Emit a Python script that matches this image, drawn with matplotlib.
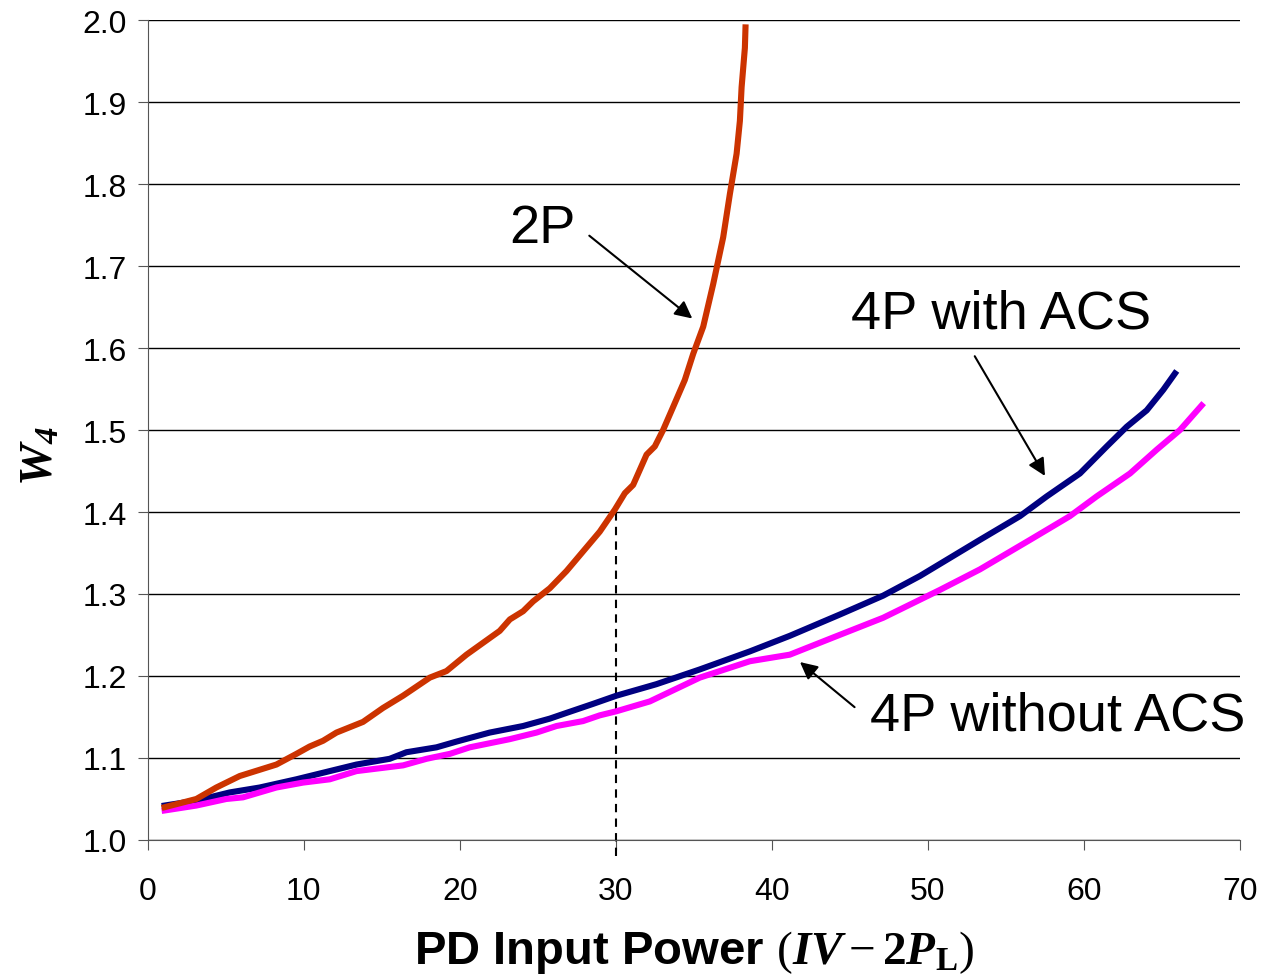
import matplotlib.pyplot as plt
import numpy as np

plt.rcParams['font.family'] = ['Liberation Sans', 'DejaVu Sans']
plt.rcParams['mathtext.fontset'] = 'custom'
plt.rcParams['mathtext.rm'] = 'Liberation Serif'
plt.rcParams['mathtext.it'] = 'Liberation Serif:italic'
plt.rcParams['mathtext.bf'] = 'Liberation Serif:bold'
plt.rcParams['mathtext.bfit'] = 'Liberation Serif:bold:italic'

# Datos
x_2p = [1.09, 3.12, 4.40, 5.90, 8.25, 9.53, 10.38, 11.24, 12.10, 13.80, 15.08, 16.37,
        18.08, 19.15, 20.43, 22.56, 23.21, 24.06, 24.70, 25.77, 26.84, 28.97, 29.94,
        30.58, 31.11, 31.97, 32.50, 33.03, 33.67, 34.42, 34.96, 35.60, 36.24, 36.88,
        37.31, 37.74, 37.95, 38.06, 38.27, 38.31]
y_2p = [1.040, 1.050, 1.064, 1.078, 1.092, 1.105, 1.114, 1.121, 1.131, 1.144, 1.161,
        1.176, 1.198, 1.206, 1.226, 1.255, 1.269, 1.279, 1.291, 1.307, 1.328, 1.376,
        1.403, 1.423, 1.433, 1.470, 1.480, 1.500, 1.528, 1.561, 1.593, 1.626, 1.678,
        1.735, 1.788, 1.837, 1.877, 1.918, 1.966, 1.991]

x_acs = [1.09, 3.12, 5.26, 7.18, 9.53, 11.24, 13.38, 15.51, 16.58, 18.51, 19.79,
         21.92, 24.06, 25.77, 26.84, 28.54, 30.04, 32.60, 35.38, 38.59, 41.15, 44.36,
         47.13, 49.49, 53.33, 55.90, 57.61, 59.74, 61.46, 62.74, 64.02, 65.08, 65.83]
y_acs = [1.042, 1.048, 1.058, 1.064, 1.074, 1.082, 1.092, 1.099, 1.107, 1.113, 1.120,
         1.131, 1.139, 1.148, 1.155, 1.166, 1.176, 1.190, 1.208, 1.230, 1.249, 1.275,
         1.298, 1.322, 1.366, 1.395, 1.419, 1.447, 1.480, 1.504, 1.524, 1.549, 1.569]

x_noacs = [1.09, 3.12, 5.04, 6.11, 8.25, 9.96, 11.67, 13.38, 16.37, 17.87, 19.36,
           20.64, 23.21, 24.92, 26.20, 27.90, 28.97, 30.04, 32.18, 35.38, 38.59, 41.15,
           43.93, 47.13, 50.77, 53.33, 56.54, 59.10, 60.81, 62.95, 64.66, 66.15, 67.54]
y_noacs = [1.036, 1.042, 1.050, 1.052, 1.064, 1.070, 1.074, 1.084, 1.091, 1.099, 1.105,
           1.113, 1.123, 1.131, 1.139, 1.145, 1.152, 1.157, 1.169, 1.198, 1.218, 1.226,
           1.247, 1.271, 1.305, 1.330, 1.366, 1.395, 1.419, 1.447, 1.476, 1.500, 1.530]

fig = plt.figure(figsize=(12.62, 9.78), dpi=100)
ax = fig.add_axes([0.117, 0.1401, 0.8656, 0.8384])

ax.plot(x_acs, y_acs, color="#000080", lw=4.4, zorder=3)
ax.plot(x_noacs, y_noacs, color="#FF00FF", lw=4.4, zorder=3)
ax.plot(x_2p, y_2p, color="#CC3300", lw=4.4, zorder=4)

# linea vertical en 30
ax.plot([30, 30], [0.98, 1.403], color="black", lw=1.5, ls=(0, (4, 3)),
        clip_on=False, zorder=2)

ax.set_xlim(0, 70)
ax.set_ylim(1.0, 2.0)
ax.set_xticks(np.arange(0, 71, 10))
ax.set_yticks(np.arange(1.0, 2.01, 0.1))
ax.set_yticklabels([f"{v:.1f}" for v in np.arange(1.0, 2.01, 0.1)])
ax.yaxis.grid(True, color="black", lw=1)
ax.set_axisbelow(True)
ax.spines["top"].set_visible(False)
ax.spines["right"].set_visible(False)
ax.spines["left"].set_color("#555555")
ax.spines["bottom"].set_color("#555555")
ax.tick_params(labelsize=23, direction="out", length=7, color="#555555")
ax.tick_params(axis="x", pad=19)
ax.tick_params(axis="y", pad=8)

ax.set_xlabel(r"PD Input Power $(\mathbfit{IV} - \mathbf{2}\mathbfit{P}_{\mathbf{L}})$",
              fontsize=34, fontweight="bold", labelpad=16)
ax.set_ylabel(r"$\mathbfit{W}_{\mathbfit{4}}$", fontsize=34)
ax.yaxis.set_label_coords(-0.078, 0.47)

arr = dict(arrowstyle="-|>", color="black", lw=1.5, mutation_scale=26,
           shrinkA=0, shrinkB=0)
ax.annotate("", xy=(34.9, 1.636), xytext=(28.3, 1.737), arrowprops=arr)
ax.annotate("", xy=(57.5, 1.444), xytext=(53.0, 1.590), arrowprops=arr)
ax.annotate("", xy=(41.8, 1.217), xytext=(45.3, 1.162), arrowprops=arr)

ax.text(25.3, 1.746, "2P", fontsize=39, ha="center", va="center")
ax.text(54.7, 1.642, "4P with ACS", fontsize=39, ha="center", va="center")
ax.text(58.3, 1.152, "4P without ACS", fontsize=39, ha="center", va="center")

fig.savefig("out.png", dpi=100)
